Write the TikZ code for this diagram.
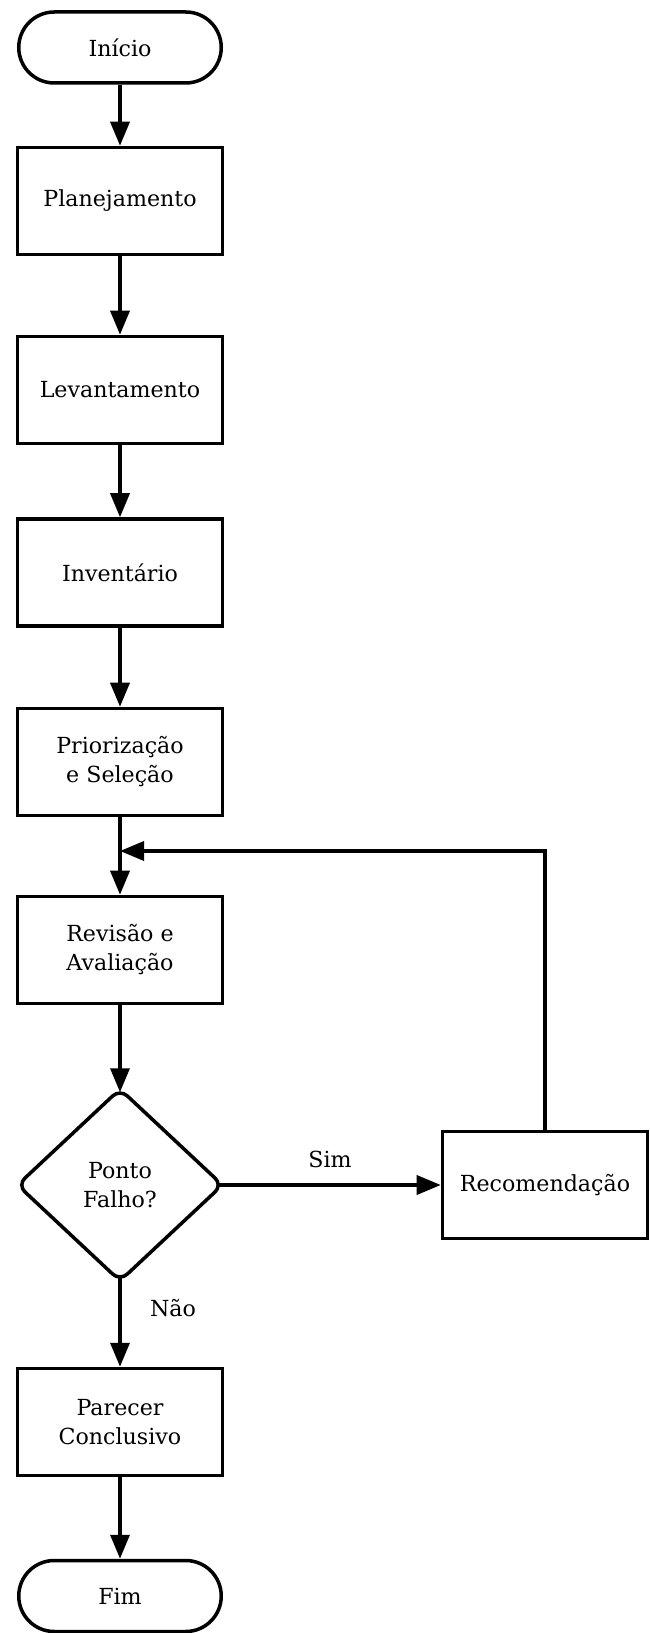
\documentclass[tikz,border=0pt]{standalone}
\usepackage{fontspec}
\setmainfont{DejaVu Serif}
\usepackage{tikz}
\usetikzlibrary{shapes,arrows,positioning,calc,arrows.meta}

\begin{document}
\begin{tikzpicture}[auto, node distance=3.7cm, line width=2pt, >={Triangle[length=4.8mm,width=3.8mm]},
    every node/.style={align=center, font=\fontsize{12.6}{16.5}\selectfont},
    box/.style={rectangle, draw, minimum width=4.1cm, minimum height=2.14cm},
    term/.style={rectangle, draw, rounded corners=0.71cm, minimum width=4.05cm, minimum height=1.42cm},
    decision/.style={diamond, draw, rounded corners=2mm, aspect=1.07, minimum width=4.06cm, minimum height=3.8cm, inner sep=0pt, outer sep=-0.45mm}]
    \useasboundingbox (-2.4,0.95) rectangle (10.6,-31.71);
    \node [term] (inicio) {Início};
    \node [box, below of=inicio, node distance=3.07cm] (plan) {Planejamento};
    \node [box, below of=plan, node distance=3.78cm] (lev) {Levantamento};
    \node [box, below of=lev, node distance=3.65cm] (inv) {Inventário};
    \node [box, below of=inv, node distance=3.79cm] (prio) {Priorização\\e Seleção};
    \node [box, below of=prio, node distance=3.76cm] (rev) {Revisão e\\Avaliação};
    \node [decision, below of=rev, node distance=4.7cm] (falho) {Ponto\\Falho?};
    \node [box, right of=falho, node distance=8.5cm] (rec) {Recomendação};
    \node [box, below of=falho, node distance=4.74cm] (parecer) {Parecer\\Conclusivo};
    \node [term, below of=parecer, node distance=3.48cm] (fim) {Fim};
    \coordinate [above of=rev, node distance=1.98cm] (volta);
    
    \draw [->] (inicio) -- (plan);
    \draw [->] (plan) -- (lev);
    \draw [->] (lev) -- (inv);
    \draw [->] (inv) -- (prio);
    \draw [->] (prio) -- (rev);
    \draw [->] (rev) -- (falho);
    \draw [->] (falho) -- node[above=0.2cm] {Sim} (rec);
    \draw [->] (rec) |- (volta);
    \draw [->] (falho) -- node[right=0.45cm, pos=0.34] {Não} (parecer);
    \draw [->] (parecer) -- (fim);
\end{tikzpicture}
\end{document}
